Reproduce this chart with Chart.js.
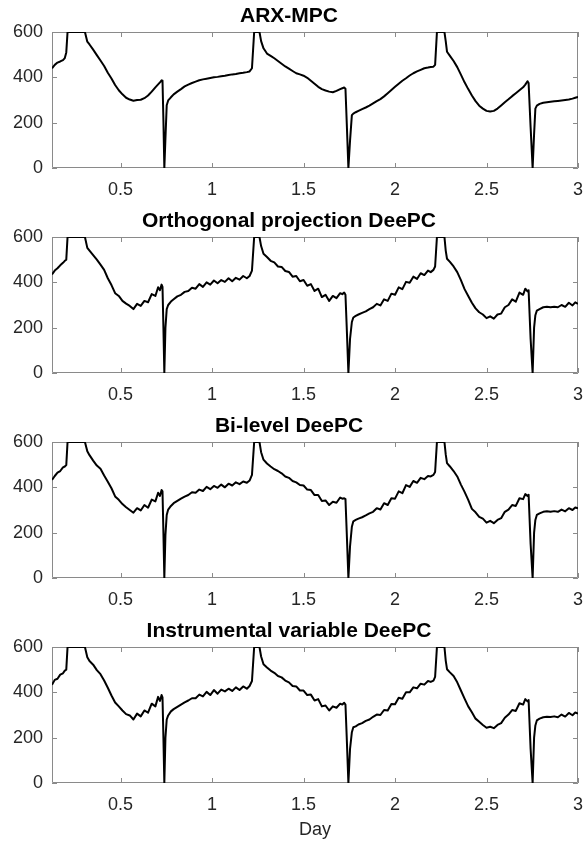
<!DOCTYPE html>
<html>
<head>
<meta charset="utf-8">
<script src="https://cdn.jsdelivr.net/npm/chart.js@4/dist/chart.umd.min.js"></script>
<style>
    html, body { margin: 0; padding: 0; background: #fff; }
    body { width: 584px; height: 841px; position: relative; overflow: hidden; }
    .panel { position: absolute; left: 0; width: 584px; }
</style>
</head>
<body>
<div class="panel" style="top:0;height:205px"><canvas id="p0" width="584" height="205"></canvas></div>
<div class="panel" style="top:205px;height:205px"><canvas id="p1" width="584" height="205"></canvas></div>
<div class="panel" style="top:410px;height:205px"><canvas id="p2" width="584" height="205"></canvas></div>
<div class="panel" style="top:615px;height:226px"><canvas id="p3" width="584" height="226"></canvas></div>
<script>
const titles = ['ARX-MPC', 'Orthogonal projection DeePC', 'Bi-level DeePC', 'Instrumental variable DeePC'];
const dayTicks = [0.5, 1, 1.5, 2, 2.5, 3];
const powerTicks = [0, 200, 400, 600];

// shared time axis (days)
const days = [
    0.125, 0.14, 0.155, 0.17, 0.185, 0.195, 0.203, 0.21,
    0.305,
    0.318, 0.33, 0.35, 0.37, 0.39, 0.41, 0.43, 0.45, 0.47, 0.49, 0.51, 0.53, 0.55, 0.57, 0.59, 0.61, 0.63, 0.65, 0.67, 0.69, 0.705, 0.715, 0.724, 0.729,
    0.734, 0.739, 0.745,
    0.752, 0.76, 0.775, 0.79, 0.81, 0.83, 0.85, 0.87, 0.89, 0.91, 0.93, 0.95, 0.97, 0.99, 1.01, 1.03, 1.05, 1.07, 1.09, 1.11, 1.13, 1.15, 1.17, 1.19, 1.205, 1.218,
    1.23, 1.259, 1.268,
    1.281, 1.3, 1.32, 1.34, 1.36, 1.38, 1.4, 1.42, 1.44, 1.46, 1.48, 1.5, 1.52, 1.54, 1.56, 1.58, 1.6, 1.62, 1.64, 1.66, 1.68, 1.7, 1.712, 1.722, 1.729,
    1.736, 1.745, 1.754,
    1.764, 1.772, 1.785, 1.8, 1.82, 1.84, 1.86, 1.88, 1.9, 1.92, 1.94, 1.96, 1.98, 2.0, 2.02, 2.04, 2.06, 2.08, 2.1, 2.12, 2.14, 2.16, 2.18, 2.195, 2.21, 2.219,
    2.229, 2.27, 2.277,
    2.284, 2.3, 2.32, 2.34, 2.36, 2.38, 2.4, 2.42, 2.44, 2.46, 2.48, 2.5, 2.52, 2.54, 2.56, 2.58, 2.6, 2.62, 2.64, 2.66, 2.68, 2.7, 2.712, 2.724, 2.73,
    2.741, 2.752, 2.76,
    2.767, 2.775, 2.79, 2.81, 2.83, 2.85, 2.87, 2.89, 2.91, 2.93, 2.95, 2.97, 2.985, 3.0
];

const arxMpc = [
    440, 455, 465, 470, 476, 485, 510, 600,
    600,
    557, 545, 522, 498, 474, 450, 420, 395, 366, 343, 325, 310, 302, 297, 300, 301, 308, 320, 337, 356, 369, 378, 387, 385,
    210, 0, 130,
    277, 298, 312, 325, 337, 348, 360, 368, 375, 381, 387, 391, 394, 397, 400, 402, 405, 407, 410, 413, 415, 418, 420, 423, 426, 440,
    600, 600, 560,
    528, 505, 495, 484, 472, 460, 448, 438, 428, 418, 413, 407, 398, 385, 372, 358, 348, 342, 337, 334, 340, 348, 352, 355, 350,
    200, 0, 120,
    233, 240, 246, 252, 260, 267, 275, 285, 295, 304, 316, 330, 344, 358, 372, 385, 396, 408, 418, 426, 433, 440, 443, 446, 447, 455,
    600, 600, 560,
    513, 495, 472, 445, 412, 378, 348, 320, 295, 275, 262, 252, 249, 252, 262, 276, 290, 303, 317, 330, 343, 356, 368, 383, 375,
    180, 0, 150,
    262, 275, 283, 288, 290, 292, 294, 296, 298, 300, 302, 306, 310, 314
];

const orthoDeePC = [
    435, 452, 462, 475, 486, 495, 500, 600,
    600,
    552, 540, 520, 500, 478, 455, 418, 388, 352, 340, 318, 306, 296, 282, 305, 296, 318, 312, 348, 340, 378, 365, 390, 380,
    200, 0, 200,
    282, 300, 315, 325, 338, 345, 358, 362, 376, 372, 392, 380, 400, 390, 408, 396, 410, 402, 418, 405, 420, 412, 428, 418, 428, 452,
    600, 600, 560,
    526, 512, 495, 488, 470, 468, 450, 446, 425, 428, 405, 410, 385, 392, 362, 372, 335, 345, 318, 340, 330, 352, 348, 355, 345,
    200, 0, 150,
    225, 245, 252, 258, 265, 272, 282, 290, 305, 298, 325, 318, 350, 345, 378, 370, 402, 398, 425, 415, 440, 432, 452, 445, 455, 470,
    600, 600, 540,
    504, 490, 470, 445, 410, 370, 340, 310, 285, 268, 258, 242, 250, 240, 258, 262, 290, 300, 325, 315, 355, 345, 372, 360, 365,
    150, 0, 200,
    255, 275, 282, 290, 292, 290, 292, 290, 300, 292, 310, 298, 312, 305
];

const bilevelDeePC = [
    433, 450, 465, 472, 488, 492, 498, 600,
    600,
    559, 542, 518, 496, 482, 452, 425, 396, 360, 345, 326, 312, 300, 288, 308, 298, 322, 310, 346, 338, 376, 362, 388, 382,
    200, 0, 190,
    278, 302, 318, 330, 340, 350, 359, 366, 378, 376, 390, 384, 402, 392, 406, 398, 412, 400, 416, 408, 422, 414, 426, 420, 430, 455,
    600, 600, 555,
    522, 505, 492, 480, 472, 462, 448, 442, 428, 422, 410, 408, 390, 388, 366, 366, 340, 342, 322, 336, 332, 355, 350, 352, 348,
    200, 0, 140,
    226, 250, 256, 262, 268, 276, 285, 292, 308, 302, 330, 322, 352, 350, 382, 374, 410, 402, 428, 420, 442, 436, 450, 448, 455, 468,
    600, 600, 545,
    507, 492, 472, 448, 412, 380, 345, 305, 290, 270, 262, 244, 252, 242, 256, 264, 292, 302, 322, 318, 352, 348, 370, 362, 367,
    150, 0, 200,
    256, 278, 285, 292, 294, 292, 295, 292, 302, 294, 308, 300, 311, 307
];

const instrumentalDeePC = [
    433, 455, 460, 478, 484, 496, 500, 600,
    600,
    555, 538, 522, 498, 480, 452, 420, 386, 355, 338, 320, 304, 298, 280, 306, 294, 320, 310, 350, 338, 380, 362, 388, 378,
    200, 0, 200,
    280, 298, 316, 326, 336, 346, 356, 364, 374, 374, 390, 382, 402, 388, 410, 394, 412, 404, 416, 406, 422, 410, 426, 416, 428, 450,
    600, 600, 558,
    524, 510, 496, 486, 472, 466, 452, 444, 428, 426, 408, 408, 388, 390, 364, 370, 338, 342, 320, 338, 332, 350, 346, 354, 346,
    200, 0, 150,
    224, 246, 250, 258, 264, 274, 280, 292, 302, 300, 322, 320, 348, 347, 376, 372, 400, 400, 422, 418, 438, 434, 450, 446, 452, 468,
    600, 600, 540,
    502, 488, 472, 444, 408, 372, 338, 312, 284, 270, 256, 244, 248, 242, 256, 264, 288, 302, 322, 318, 352, 346, 370, 360, 366,
    150, 0, 200,
    254, 276, 284, 290, 292, 291, 294, 290, 302, 293, 309, 299, 311, 306
];

const series = [arxMpc, orthoDeePC, bilevelDeePC, instrumentalDeePC];

const FONT = '"Liberation Sans", Arial, Helvetica, sans-serif';
const AXIS_GREY = '#8a8a8a';
const TEXT = '#262626';

// matlab style box with inward ticks, drawn under the line
const boxPlugin = {
    id: 'box',
    beforeDatasetsDraw(chart) {
        const { ctx, chartArea: a, scales } = chart;
        const len = 5;
        ctx.save();
        ctx.strokeStyle = AXIS_GREY;
        ctx.lineWidth = 1;
        ctx.beginPath();
        ctx.rect(a.left + 0.5, a.top + 0.5, a.right - a.left - 1, a.bottom - a.top - 1);
        scales.x.ticks.forEach((t) => {
            const px = Math.round(scales.x.getPixelForValue(t.value)) + 0.5;
            ctx.moveTo(px, a.bottom);
            ctx.lineTo(px, a.bottom - len);
            ctx.moveTo(px, a.top);
            ctx.lineTo(px, a.top + len);
        });
        scales.y.ticks.forEach((t) => {
            const py = Math.round(scales.y.getPixelForValue(t.value)) + 0.5;
            ctx.moveTo(a.left, py);
            ctx.lineTo(a.left + len, py);
            ctx.moveTo(a.right, py);
            ctx.lineTo(a.right - len, py);
        });
        ctx.stroke();
        ctx.restore();
    },
};

series.forEach((values, i) => {
    const last = i === series.length - 1;
    new Chart(document.getElementById('p' + i), {
        type: 'line',
        data: {
            datasets: [{
                data: days.map((d, k) => ({ x: d, y: values[k] })),
                borderColor: '#000',
                borderWidth: 2,
                borderJoinStyle: 'round',
                pointRadius: 0,
                tension: 0,
                fill: false,
            }],
        },
        options: {
            responsive: false,
            animation: false,
            devicePixelRatio: 1,
            layout: { padding: { left: 0, right: 6, top: 0, bottom: 0 } },
            plugins: {
                legend: { display: false },
                tooltip: { enabled: false },
                title: {
                    display: true,
                    text: titles[i],
                    color: '#000',
                    font: { family: FONT, size: 21, weight: 'bold', lineHeight: 1.2 },
                    padding: { top: 4, bottom: 2.8 },
                },
            },
            scales: {
                x: {
                    type: 'linear',
                    min: 0.125,
                    max: 3,
                    grid: { display: false, drawTicks: false },
                    border: { display: false },
                    ticks: {
                        color: TEXT,
                        font: { family: FONT, size: 18 },
                        padding: 11,
                        maxRotation: 0,
                        callback: (v) => String(v),
                    },
                    afterBuildTicks: (s) => { s.ticks = dayTicks.map((v) => ({ value: v })); },
                    afterFit: (s) => {
                        s.height = last ? 58 : 37;
                        s.paddingLeft = 0;
                        s.paddingRight = 0;
                    },
                    title: {
                        display: last,
                        text: 'Day',
                        color: TEXT,
                        font: { family: FONT, size: 18 },
                        padding: { top: 4, bottom: 0 },
                    },
                },
                y: {
                    min: 0,
                    max: 600,
                    grid: { display: false, drawTicks: false },
                    border: { display: false },
                    ticks: {
                        color: TEXT,
                        font: { family: FONT, size: 18 },
                        padding: 9,
                        callback: (v) => String(v),
                    },
                    afterBuildTicks: (s) => { s.ticks = powerTicks.map((v) => ({ value: v })); },
                    afterFit: (s) => {
                        s.width = 52;
                        s.paddingTop = 0;
                        s.paddingBottom = 0;
                    },
                },
            },
        },
        plugins: [boxPlugin],
    });
});
</script>
</body>
</html>
